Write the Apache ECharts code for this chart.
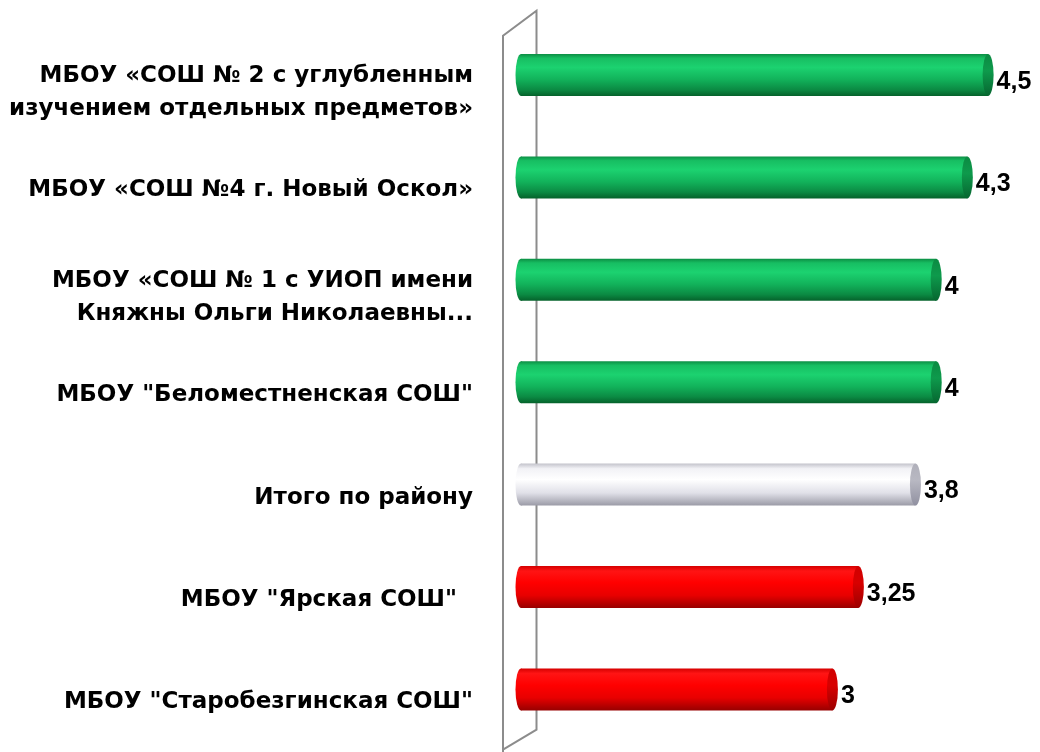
<!DOCTYPE html>
<html>
<head>
<meta charset="utf-8">
<script src="https://cdn.jsdelivr.net/npm/echarts@6/dist/echarts.min.js"></script>
<style>html,body{margin:0;padding:0;background:#fff;}#c{width:1040px;height:752px;}</style>
</head>
<body>
<div id="c"></div>
<script>
const categories = [
  'МБОУ «СОШ № 2 с углубленным\nизучением отдельных предметов»',
  'МБОУ «СОШ №4 г. Новый Оскол»',
  'МБОУ «СОШ № 1 с УИОП имени\nКняжны Ольги Николаевны...',
  'МБОУ "Беломестненская СОШ"',
  'Итого по району',
  'МБОУ "Ярская СОШ"  ',
  'МБОУ "Старобезгинская СОШ"'
];
const values = [4.5, 4.3, 4, 4, 3.8, 3.25, 3];
const totalName = 'Итого по району';

const LABEL_FONT = '"DejaVu Sans", "Open Sans", sans-serif';
const VALUE_FONT = '"Liberation Sans", Arial, sans-serif';
const totalValue = values[categories.indexOf(totalName)];

function grad(stops) {
  return new echarts.graphic.LinearGradient(0, 0, 0, 1, stops.map((c) => ({offset: c[0], color: c[1]})));
}
const palettes = {
  green: {
    body: [[0,'#0C8E44'],[0.1,'#17BE62'],[0.32,'#1CD270'],[0.6,'#12B35B'],[0.85,'#0B8A43'],[1,'#05622B']],
    cap:  [[0,'#0B8A42'],[0.4,'#0E9A4C'],[1,'#066630']]
  },
  red: {
    body: [[0,'#D40000'],[0.12,'#FF1414'],[0.4,'#FF0000'],[0.7,'#E80000'],[1,'#980000']],
    cap:  [[0,'#D00000'],[0.4,'#D80000'],[1,'#9C0000']]
  },
  white: {
    body: [[0,'#C4C4CC'],[0.12,'#F2F2F6'],[0.38,'#FFFFFF'],[0.7,'#E0E0E8'],[1,'#9A9AA6']],
    cap:  [[0,'#B0B0BA'],[0.4,'#B8B8C2'],[1,'#9090A0']]
  }
};
function kindOf(idx) {
  if (categories[idx] === totalName) return 'white';
  return values[idx] >= totalValue ? 'green' : 'red';
}

const chart = echarts.init(document.getElementById('c'), null, {renderer: 'canvas'});

chart.setOption({
  backgroundColor: '#ffffff',
  animation: false,
  grid: {left: 521, width: 523.5, top: 23.8, height: 716.8, containLabel: false},
  xAxis: {
    type: 'value', min: 0, max: 5, interval: 1,
    show: false
  },
  yAxis: {
    type: 'category', data: categories, inverse: true,
    axisLine: {show: false}, axisTick: {show: false}, splitLine: {show: false},
    axisLabel: {
      margin: 48, color: '#000', align: 'right', verticalAlign: 'middle',
      formatter: function (name) {
        const lines = name.split('\n');
        const spacer = lines.length > 1 ? '{s2| }' : '{s| }';
        return spacer + '\n' + lines.map(l => '{t|' + l + '}').join('\n');
      },
      rich: {
        s: {fontSize: 10, lineHeight: 26},
        s2: {fontSize: 10, lineHeight: 36},
        t: {fontFamily: LABEL_FONT, fontWeight: 'bold', fontSize: 23, lineHeight: 33, color: '#000'}
      }
    }
  },
  series: [
    {
      type: 'custom',
      silent: true,
      data: [0],
      z: 1,
      renderItem: function (params, api) {
        const cs = params.coordSys;
        const x0 = cs.x;
        const top = cs.y, bottom = cs.y + cs.height;
        const fx = x0 - 18, bx = x0 + 15.5;
        const ls = {stroke: '#8C8C8C', lineWidth: 2, fill: null};
        return {
          type: 'group',
          children: [
            {type: 'polyline', shape: {points: [[fx, 760], [fx, top + 12], [bx, top - 13], [bx, bottom - 11], [fx, bottom + 9]]}, style: ls}
          ]
        };
      }
    },
    {
      type: 'custom',
      silent: true,
      z: 2,
      data: values.map((v, i) => [v, i]),
      encode: {x: 0, y: 1},
      renderItem: function (params, api) {
        const v = api.value(0), idx = api.value(1);
        const p0 = api.coord([0, idx]);
        const pv = api.coord([v, idx]);
        const band = api.size([0, 1])[1];
        const h = band * 0.41;
        const ry = h / 2, rx = 5.5;
        const cy = p0[1];
        const pal = palettes[kindOf(idx)];
        const bodyFill = grad(pal.body);
        const capFill = grad(pal.cap);
        const txt = String(v).replace('.', ',');
        return {
          type: 'group',
          children: [
            {type: 'circle', x: p0[0], y: cy, scaleX: rx / ry, scaleY: 1, shape: {cx: 0, cy: 0, r: ry}, style: {fill: bodyFill}},
            {type: 'rect', shape: {x: p0[0], y: cy - ry, width: pv[0] - p0[0], height: h}, style: {fill: bodyFill}},
            {type: 'circle', x: pv[0], y: cy, scaleX: rx / ry, scaleY: 1, shape: {cx: 0, cy: 0, r: ry}, style: {fill: capFill}},
            {type: 'text', x: pv[0] + rx + 3, y: cy + 7, style: {text: txt, fontFamily: VALUE_FONT, fontWeight: 'bold', fontSize: 25, fill: '#000', align: 'left', verticalAlign: 'middle'}}
          ]
        };
      }
    }
  ]
});
</script>
</body>
</html>
